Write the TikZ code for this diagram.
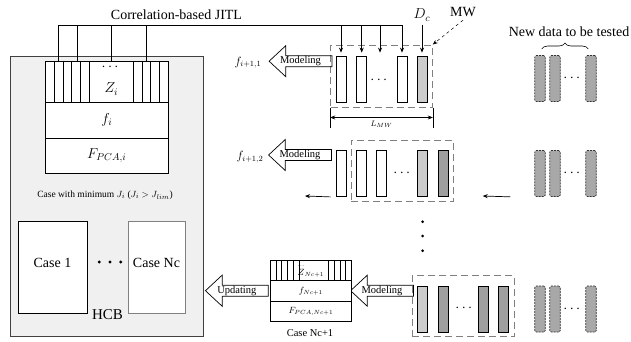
\documentclass[tikz,border=0pt]{standalone}
\usepackage{amsmath}
\usepackage{fontspec}
\setmainfont{Liberation Serif}
\usetikzlibrary{positioning, arrows.meta, decorations.pathreplacing}
\newcommand{\hollowarrow}[1]{%
  \draw[arrline] (#1.north east) -- ([xshift=16.7pt]#1.north west)
    -- ([xshift=16.7pt,yshift=10pt]#1.north west) -- (#1.west)
    -- ([xshift=16.7pt,yshift=-10pt]#1.south west) -- ([xshift=16.7pt]#1.south west)
    -- (#1.south east) -- cycle;}

\begin{document}
\begin{tikzpicture}[
  x=1pt, y=-1pt,
  font=\fontsize{14}{16}\selectfont,
  hcb/.style={rectangle, draw=black!75, fill=gray!12, line width=0.8pt, inner sep=0pt},
  casebox/.style={rectangle, draw, fill=white, line width=0.8pt, minimum height=92,
                  text height=8pt, text depth=8pt, font=\fontsize{14}{16}\selectfont},
  sec/.style={rectangle, draw, fill=white, line width=0.8pt, minimum width=122.5, inner sep=0pt,
              outer sep=0pt, font=\fontsize{14}{16}\selectfont},
  secs/.style={rectangle, draw, fill=white, line width=0.8pt, minimum width=81.7, inner sep=0pt,
               outer sep=0pt, font=\fontsize{9}{10}\selectfont},
  bar/.style={rectangle, draw, fill=white, line width=0.8pt, minimum width=10, minimum height=46, inner sep=0pt},
  barlt/.style={bar, fill=gray!40},
  bardk/.style={bar, fill=gray!75},
  newbar/.style={rectangle, draw=black!80, dash pattern=on 2pt off 1pt, fill=gray!68, rounded corners=1.5pt,
                 line width=0.7pt, minimum width=10.5, minimum height=46, inner sep=0pt},
  mwin/.style={rectangle, draw=gray, dash pattern=on 7pt off 4pt, line width=1pt, inner sep=0pt},
  arrtxt/.style={rectangle, inner sep=0pt, minimum width=62.4, minimum height=10.7,
                 text height=7.2pt, text depth=2.3pt, font=\fontsize{10.5}{11}\selectfont},
  arrline/.style={line width=0.7pt, line join=miter},
  dat/.style={-{Stealth[length=5pt, width=4pt]}, line width=0.7pt},
  flab/.style={font=\fontsize{12}{13}\selectfont},
]
\useasboundingbox (0,0) rectangle (631,341);
% --- HCB ---
\node[hcb, minimum width=193.3, minimum height=280.5] (hcb) at (106.65,196.25) {};
\node[sec, minimum height=41] (Zi) at (106.75,81.5) {};
\node[sec, minimum height=36, below=0pt of Zi] (fi) {$f_i$};
\node[sec, minimum height=35, below=0pt of fi] (Fi) {$F_{PCA,i}$};
\foreach \x in {54.25,63,71.75,80.5,89.25,133.2,141.9,150.6,159.3}
  \draw[line width=0.8pt] (\x,0 |- Zi.north) -- (\x,0 |- Zi.south);
\node (zd) at (111.3,67) {$\cdots$};
\node (zl) at (111.3,89) {$Z_i$};
\node[font=\fontsize{9.5}{11}\selectfont] (minj) at (105,195) {Case with minimum $J_i$ ($J_i > J_{lim}$)};
\node[casebox, minimum width=69] (c1) at (52.5,267) {Case 1};
\node[casebox, draw=black!50, line width=0.6pt, minimum width=57] (cn) at (156.5,267) {Case Nc};
\foreach \x in {99.3,110,120.7} \fill (\x,262) circle (1.6pt);
\node[font=\fontsize{15}{17}\selectfont] (hcbl) at (107.5,315) {HCB};
% --- JITL ---
\node (jitl) at (176.5,15) {Correlation-based JITL};
\coordinate (jl) at (58,25);
\coordinate (jr) at (402,25);
\draw[line width=0.8pt] (jl) -- (jr);
\foreach \x in {58,77,111,146}
  \draw[line width=0.8pt] (\x,0 |- jl) -- (\x,0 |- Zi.north);
% --- row 1 ---
\node[mwin, minimum width=101.6, minimum height=62] (mw1) at (381.5,76) {};
\node[bar] (b11) at (341,79) {};
\node[bar] (b12) at (361.7,79) {};
\node (d1) at (380,80) {$\cdots$};
\node[bar] (b13) at (402,79) {};
\node[barlt] (b14) at (422,79) {};
\foreach \b in {b11,b12,b13}
  \draw[dat, shorten >=3pt] (\b.north |- jl) -- (\b.north);
\draw[dat, shorten >=3pt] (d1 |- jl) -- (d1 |- b11.north);
\node (dc) at (422,15) {$D_c$};
\draw[dat, shorten >=3pt] (dc) -- (b14.north);
\node (mwl) at (463,12) {MW};
\draw[dat, dashed, line width=0.5pt] (mwl.south) -- (mw1.north east);
\draw[line width=0.6pt] (mw1.south west) -- ++(0,20);
\draw[line width=0.6pt] (mw1.south east) -- ++(0,20);
\draw[{Stealth[length=5pt, width=4pt]}-{Stealth[length=5pt, width=4pt]}, line width=0.6pt]
  ([yshift=-10pt]mw1.south west) -- ([yshift=-10pt]mw1.south east);
\node[font=\fontsize{8}{9}\selectfont] (lmw) at (381.5,124) {$L_{MW}$};
\node[arrtxt] (m1) at (300.5,61.2) {Modeling};
\hollowarrow{m1}
\node[flab] (f1) at (248,62.7) {$f_{i+1,1}$};
% --- row 2 ---
\node[mwin, minimum width=102.3, minimum height=61.7] (mw2) at (402.15,170.85) {};
\node[bar] (b21) at (341,173.5) {};
\node[bar] (b22) at (361,173.5) {};
\node[bar] (b23) at (381.7,173.5) {};
\node (d2) at (403,173) {$\cdots$};
\node[barlt] (b24) at (422.7,173.5) {};
\node[bardk] (b25) at (443,173.5) {};
\node[arrtxt] (m2) at (300,155) {Modeling};
\hollowarrow{m2}
\node[flab] (f2) at (250,157.5) {$f_{i+1,2}$};
\coordinate (o2) at (305,196);
\coordinate (i2) at (482.7,196);
% --- vertical dots ---
\foreach \y in {221.7,236,250.7} \fill (422.7,\y) circle (1.5pt);
% --- row 3 ---
\node[mwin, minimum width=102, minimum height=61] (mw3) at (463.3,306.2) {};
\node[barlt] (b31) at (422.5,309) {};
\node[bardk] (b32) at (443,309) {};
\node (d3) at (465,308) {$\cdots$};
\node[bardk] (b33) at (483.7,309) {};
\node[bardk] (b34) at (503.7,309) {};
\node[arrtxt] (m3) at (382,290.7) {Modeling};
\hollowarrow{m3}
\node[secs, minimum height=20.7] (Zn) at (310.85,270.35) {$\overset{\cdots}{Z}_{Nc+1}$};
\node[secs, minimum height=20.3, below=0pt of Zn] (fn) {$f_{Nc+1}$};
\node[secs, minimum height=20.7, below=0pt of fn] (Fn) {$F_{PCA,Nc+1}$};
\foreach \x in {275.9,281.8,287.7,293.6,299.5,328.3,334.15,340,345.85}
  \draw[line width=0.8pt] (\x,0 |- Zn.north) -- (\x,0 |- Zn.south);
\node[font=\fontsize{10.5}{12}\selectfont] (cn1) at (310,333.3) {Case Nc+1};
\node[arrtxt] (upd) at (236.85,290.7) {Updating};
\hollowarrow{upd}
% --- new data ---
\foreach \r/\y in {1/78.5,2/173.5,3/309} {
  \node[newbar] (n\r1) at (540,\y) {};
  \node[newbar] (n\r2) at (555,\y) {};
  \node[newbar] (n\r3) at (591,\y) {};
  \node (nd\r) at (573,\y) {$\cdots$};
}
\draw[decorate, decoration={brace, amplitude=6pt}, line width=0.6pt] (541.7,49) -- (588.3,49);
\node (ndl) at (569,31.7) {New data to be tested};
\draw[dat] ([xshift=-5pt]b21.south west) -- (o2);
\draw[dat] ([xshift=-24pt]n21.south west) -- (i2);
\end{tikzpicture}
\end{document}
